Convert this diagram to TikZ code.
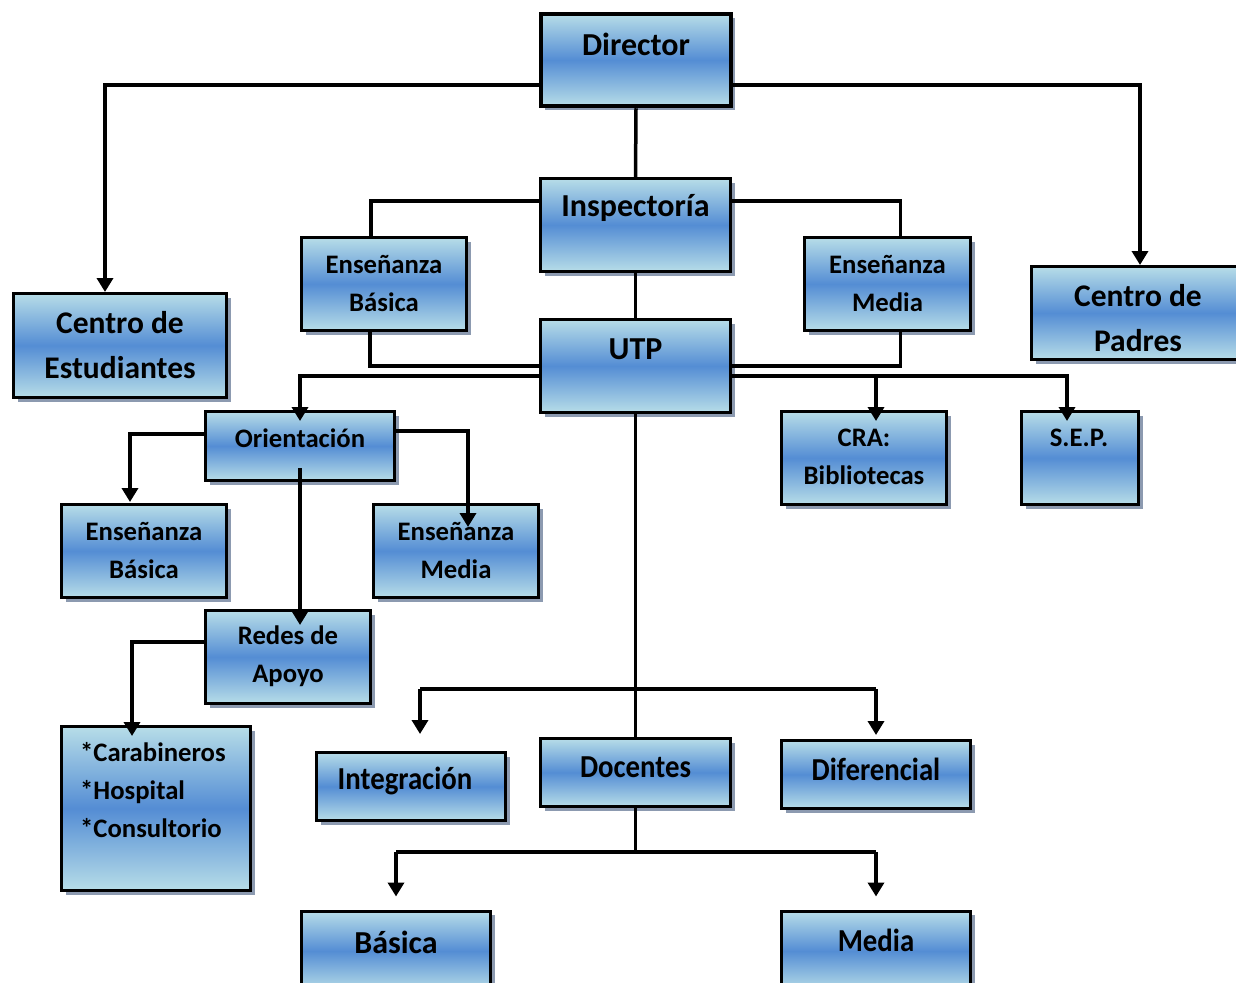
\documentclass[tikz,border=0pt]{standalone}
\usepackage{fontspec}
\setmainfont{Carlito}
\usetikzlibrary{arrows.meta,shadows}

\definecolor{boxlight}{RGB}{183,221,232}
\definecolor{boxmid}{RGB}{84,141,212}
\definecolor{boxshadow}{RGB}{140,154,176}

\tikzset{
  orgbox/.style={draw=black, line width=3pt, inner sep=0pt,
    top color=boxlight, bottom color=boxlight, middle color=boxmid,
    general shadow={fill=boxshadow, shadow xshift=4pt, shadow yshift=-4pt}},
  link/.style={line width=3.5pt, line join=miter},
  arr/.style={link, -{Triangle[length=14pt,width=16pt]}},
  lbl/.style={inner sep=0pt, align=center},
  fbig/.style={font=\fontsize{32}{36}\selectfont\bfseries},
  fnarrow/.style={font=\fontsize{32}{36}\selectfont\bfseries, xscale=0.9},
  fmid/.style={font=\fontsize{31.5}{45}\selectfont\bfseries},
  fsmall/.style={font=\fontsize{26.7}{38}\selectfont\bfseries},
}

\begin{document}
\begin{tikzpicture}[x=1pt,y=-1pt]
\useasboundingbox (0,0) rectangle (1236,982);
\clip (0,0) rectangle (1236,982);

% ---- boxes ----
\node[orgbox, line width=4.5pt, minimum width=190pt, minimum height=92pt] (dir) at (636,60) {};
\node[orgbox, minimum width=190pt, minimum height=93pt] (insp) at (635.5,225) {};
\node[orgbox, minimum width=190pt, minimum height=93pt] (utp) at (635.5,366) {};
\node[orgbox, minimum width=165pt, minimum height=93pt] (ebt) at (384,284) {};
\node[orgbox, minimum width=166pt, minimum height=93pt] (emt) at (887.5,284) {};
\node[orgbox, minimum width=213pt, minimum height=104pt] (ces) at (120,345.5) {};
\node[orgbox, minimum width=213pt, minimum height=93pt] (cpa) at (1138,313) {};
\node[orgbox, minimum width=189pt, minimum height=69pt] (ori) at (300,446) {};
\node[orgbox, minimum width=165pt, minimum height=93pt] (cra) at (864,458) {};
\node[orgbox, minimum width=117pt, minimum height=93pt] (sep) at (1080,458) {};
\node[orgbox, minimum width=165pt, minimum height=93pt] (ebl) at (144,551) {};
\node[orgbox, minimum width=165pt, minimum height=93pt] (eml) at (456,551) {};
\node[orgbox, minimum width=165pt, minimum height=93pt] (red) at (288,657) {};
\node[orgbox, minimum width=189pt, minimum height=164pt] (car) at (156,808.5) {};
\node[orgbox, minimum width=189pt, minimum height=68pt] (int) at (411,786.5) {};
\node[orgbox, minimum width=190pt, minimum height=68pt] (doc) at (635.5,772.5) {};
\node[orgbox, minimum width=189pt, minimum height=68pt] (dif) at (876,774.5) {};
\node[orgbox, minimum width=189pt, minimum height=80pt] (bas) at (396,951) {};
\node[orgbox, minimum width=189pt, minimum height=80pt] (med) at (876,951) {};

% ---- labels ----
\node[lbl, fbig] (dir-t) at ([yshift=16pt]dir.center) {Director};
\node[lbl, fbig] (insp-t) at ([yshift=17pt]insp.center) {Inspectoría};
\node[lbl, fbig] (utp-t) at ([yshift=17pt]utp.center) {UTP};
\node[lbl, fsmall] (ebt-t) at ([yshift=1pt]ebt.center) {Enseñanza\\Básica};
\node[lbl, fsmall] (emt-t) at ([yshift=1pt]emt.center) {Enseñanza\\Media};
\node[lbl, fmid] (ces-t) at (ces.center) {Centro de\\Estudiantes};
\node[lbl, fmid] (cpa-t) at ([yshift=-5pt]cpa.center) {Centro de\\Padres};
\node[lbl, fsmall] (ori-t) at ([yshift=8pt]ori.center) {Orientación};
\node[lbl, fsmall] (cra-t) at ([yshift=1pt]cra.center) {CRA:\\Bibliotecas};
\node[lbl, fsmall] (sep-t) at ([xshift=-1pt,yshift=20pt]sep.center) {S.E.P.};
\node[lbl, fsmall] (ebl-t) at ([yshift=1pt]ebl.center) {Enseñanza\\Básica};
\node[lbl, fsmall] (eml-t) at ([yshift=1pt]eml.center) {Enseñanza\\Media};
\node[lbl, fsmall] (red-t) at ([yshift=1pt]red.center) {Redes de\\Apoyo};
\node[lbl, fsmall, align=left, anchor=west] (car-t) at ([xshift=20pt,yshift=18pt]car.west) {*Carabineros\\*Hospital\\*Consultorio};
\node[lbl, fnarrow] (int-t) at ([xshift=-6pt,yshift=6pt]int.center) {Integración};
\node[lbl, fnarrow] (doc-t) at ([yshift=5pt]doc.center) {Docentes};
\node[lbl, fnarrow] (dif-t) at ([yshift=5pt]dif.center) {Diferencial};
\node[lbl, fbig] (bas-t) at ([yshift=9pt]bas.center) {Básica};
\node[lbl, fnarrow] (med-t) at ([yshift=11pt]med.center) {Media};

% ---- connectors ----
\draw[arr] ([yshift=-25pt]dir.west) -| ([xshift=-15pt]ces.north);
\draw[arr] ([yshift=-25pt]dir.east) -| ([xshift=2pt]cpa.north);
\draw[link] (dir.south) -- (insp.north);

\draw[link] ([yshift=24pt]insp.west) -| ([xshift=-13pt]ebt.north);
\draw[link] ([yshift=24pt]insp.east) -| ([xshift=13pt]emt.north);
\draw[link] (insp.south) -- (utp.north);

\draw[link] ([xshift=-14pt]ebt.south) |- (utp.west);
\draw[link] ([xshift=13pt]emt.south) |- (utp.east);

\draw[arr] ([yshift=-10pt]utp.west) -| ([yshift=-11pt]ori.north);
\coordinate (utpR) at ([yshift=-10pt]utp.east);
\coordinate (craIn) at ([xshift=12pt,yshift=-11pt]cra.north);
\draw[arr] (utpR) -| ([xshift=-13pt,yshift=-11pt]sep.north);
\draw[arr] (utpR -| craIn) -- (craIn);

\draw[arr] ([yshift=12pt]ori.west) -| ([xshift=-14pt,yshift=1pt]ebl.north);
\draw[arr] ([yshift=15pt]ori.east) -| ([xshift=12pt,yshift=-24pt]eml.north);
\draw[arr] ([yshift=-22pt]ori.center) -- ([xshift=12pt,yshift=-16pt]red.north);
\draw[arr] ([yshift=15pt]red.west) -| ([xshift=-24pt,yshift=-11pt]car.north);

\draw[link] (utp.south) -- (doc.north);
\coordinate (midbus) at (636,689);
\coordinate (intIn) at ([xshift=9pt,yshift=17pt]int.north);
\coordinate (difIn) at ([yshift=4pt]dif.north);
\draw[arr] (midbus -| intIn) -- (intIn);
\draw[arr] (midbus -| difIn) -- (difIn);
\draw[link] (midbus -| intIn) -- (midbus -| difIn);

\coordinate (lowbus) at ([yshift=-44pt]doc.south);
\coordinate (basIn) at ([yshift=13pt]bas.north);
\coordinate (medIn) at ([yshift=13pt]med.north);
\draw[link] (doc.south) -- (lowbus);
\draw[arr] (lowbus -| basIn) -- (basIn);
\draw[arr] (lowbus -| medIn) -- (medIn);
\draw[link] (lowbus -| basIn) -- (lowbus -| medIn);
\end{tikzpicture}
\end{document}
